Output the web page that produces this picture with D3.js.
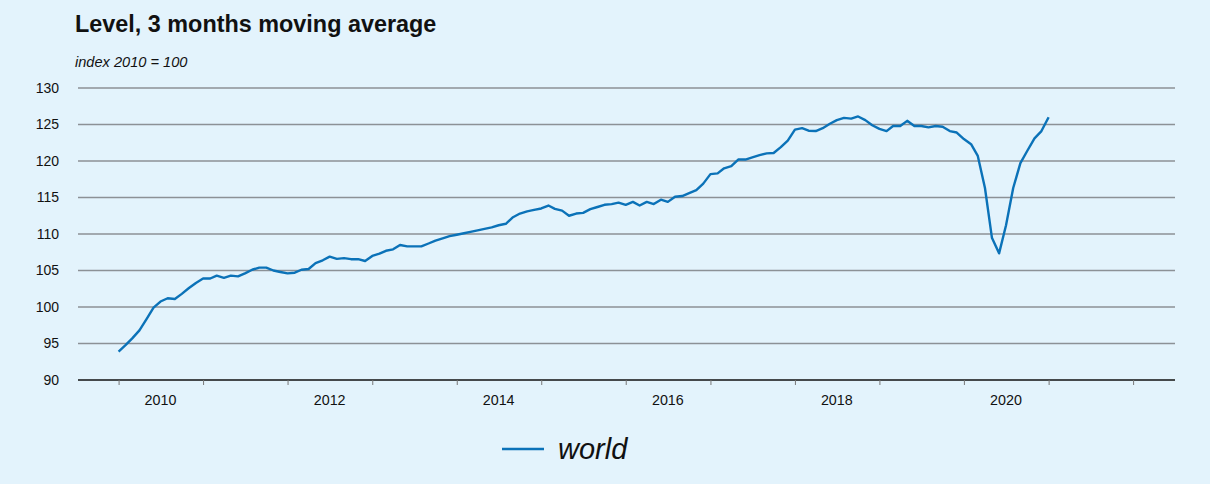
<!DOCTYPE html>
<html>
<head>
<meta charset="utf-8">
<script src="https://cdn.jsdelivr.net/npm/d3@7"></script>
<style>
  html, body { margin: 0; padding: 0; background: #e3f3fc; }
  svg { display: block; }
  text { font-family: "Liberation Sans", Arial, Helvetica, sans-serif; fill: #111; }
</style>
</head>
<body>
<svg id="chart" width="1210" height="484"></svg>
<script>
// ---- data ----
const title = "Level, 3 months moving average";
const subtitle = "index 2010 = 100";
const seriesName = "world";
const startMonth = "2010-01";   // first observation
const yTicks = [90, 95, 100, 105, 110, 115, 120, 125, 130];
const yearTicks = [2010, 2011, 2012, 2013, 2014, 2015, 2016, 2017, 2018, 2019, 2020, 2021, 2022];
const yearLabels = [2010, 2012, 2014, 2016, 2018, 2020];
const worldValues = [
  93.9, 94.8, 95.7, 96.8, 98.3, 99.9, 100.75, 101.2, 101.1, 101.8, 102.6, 103.3,
  103.9, 103.9, 104.3, 104.0, 104.3, 104.2, 104.6, 105.1, 105.4, 105.4, 105.0, 104.8,
  104.6, 104.7, 105.1, 105.2, 106.0, 106.4, 106.9, 106.6, 106.7, 106.55, 106.55, 106.3,
  107.0, 107.3, 107.7, 107.9, 108.5, 108.3, 108.3, 108.3, 108.7, 109.1, 109.4, 109.7,
  109.9, 110.1, 110.3, 110.5, 110.7, 110.9, 111.2, 111.4, 112.3, 112.8, 113.1, 113.3,
  113.5, 113.9, 113.45, 113.2, 112.5, 112.8, 112.9, 113.4, 113.7, 114.0, 114.1, 114.3,
  114.0, 114.4, 113.9, 114.4, 114.1, 114.7, 114.4, 115.1, 115.2, 115.6, 116.0, 116.9,
  118.2, 118.3, 119.0, 119.3, 120.2, 120.2, 120.5, 120.8, 121.05, 121.1, 121.9, 122.8,
  124.3, 124.5, 124.15, 124.1, 124.5, 125.1, 125.6, 125.9, 125.8, 126.1, 125.6, 124.9,
  124.4, 124.1, 124.8, 124.8, 125.5, 124.8, 124.8, 124.6, 124.8, 124.7, 124.1, 123.9,
  123.0, 122.3, 120.7, 116.3, 109.5, 107.35, 111.2, 116.3, 119.7, 121.4, 123.1, 124.1,
  126.0
];

// ---- chart ----
const svg = d3.select("#chart");
const W = 1210, H = 484;
svg.append("rect").attr("width", W).attr("height", H).attr("fill", "#e3f3fc");

const parseMonth = d3.timeParse("%Y-%m");
const t0 = parseMonth(startMonth);
const dates = worldValues.map((v, i) => d3.timeMonth.offset(t0, i));
const data = worldValues.map((v, i) => ({ date: dates[i], value: v }));

const x = d3.scaleTime()
  .domain([new Date(2009, 6, 1), new Date(2022, 6, 1)])
  .range([76, 1175]);
const y = d3.scaleLinear().domain([90, 130]).range([380, 88]);

// title & subtitle
svg.append("text").attr("x", 75).attr("y", 32)
  .attr("font-size", 23.4).attr("font-weight", "bold").attr("fill", "#000").text(title);
svg.append("text").attr("x", 75).attr("y", 67)
  .attr("font-size", 14.6).attr("font-style", "italic").text(subtitle);

// gridlines
const grid = svg.append("g");
grid.selectAll("line").data(yTicks.filter(d => d !== 90)).join("line")
  .attr("x1", x.range()[0] + 2).attr("x2", x.range()[1])
  .attr("y1", d => y(d)).attr("y2", d => y(d))
  .attr("stroke", "#8c9196").attr("stroke-width", 1.3);

// y labels
const yAxis = d3.axisLeft(y).tickValues(yTicks).tickSize(0).tickPadding(0);
const gy = svg.append("g").attr("transform", "translate(59,0)").call(yAxis);
gy.select(".domain").remove();
gy.selectAll("text").attr("font-size", 14).attr("fill", "#111")
  .attr("font-family", "Liberation Sans, Arial, sans-serif");

// x axis (year boundaries as ticks)
const xAxis = d3.axisBottom(x)
  .tickValues(yearTicks.map(yr => new Date(yr, 0, 1)))
  .tickSize(5).tickFormat("");
const gx = svg.append("g").attr("transform", `translate(0,${y(90)})`).call(xAxis);
gx.select(".domain").attr("stroke", "#111").attr("stroke-width", 1.6)
  .attr("d", `M${x.range()[0] + 2},0H${x.range()[1]}`);
gx.selectAll(".tick line").attr("stroke", "#777").attr("stroke-width", 1);

// x labels at mid-year
svg.append("g").selectAll("text").data(yearLabels).join("text")
  .attr("x", d => x(new Date(d, 6, 1)))
  .attr("y", 405)
  .attr("text-anchor", "middle")
  .attr("font-size", 14.3)
  .text(d => d);

// line
const line = d3.line().x(d => x(d.date)).y(d => y(d.value));
svg.append("path").datum(data)
  .attr("d", line)
  .attr("fill", "none")
  .attr("stroke", "#0b72b8")
  .attr("stroke-width", 2.4)
  .attr("stroke-linejoin", "round");

// legend
const lg = svg.append("g");
lg.append("line").attr("x1", 502).attr("x2", 544).attr("y1", 449).attr("y2", 449)
  .attr("stroke", "#0b72b8").attr("stroke-width", 2.4);
lg.append("text").attr("x", 558).attr("y", 459)
  .attr("font-size", 29).attr("font-style", "italic").text(seriesName);
</script>
</body>
</html>
